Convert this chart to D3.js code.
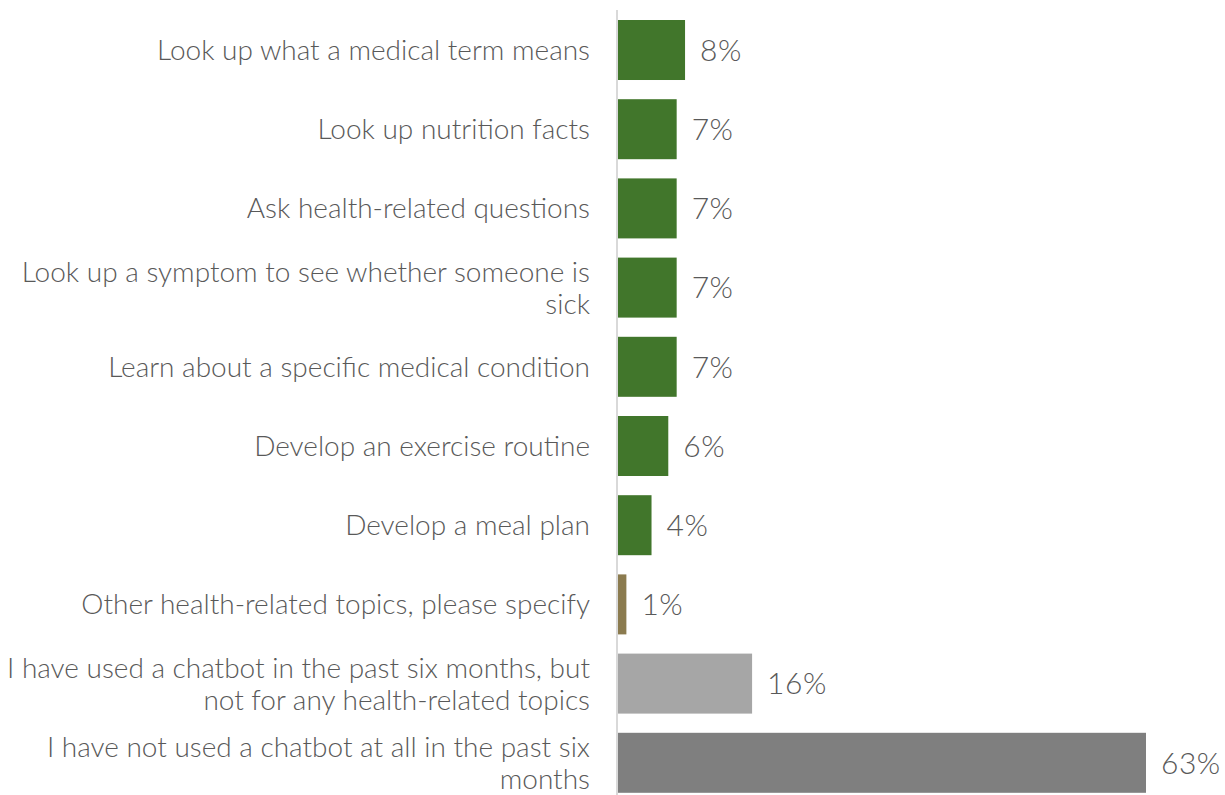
<!DOCTYPE html>
<html>
<head>
<meta charset="utf-8">
<script src="https://cdn.jsdelivr.net/npm/d3@7"></script>
<style>
  html, body { margin: 0; padding: 0; background: #fff; }
  svg { display: block; }
  text { font-family: Lato, "Open Sans", sans-serif; font-weight: 300; fill: #595959; }
</style>
</head>
<body>
<svg id="chart" width="1225" height="795"></svg>
<script>
// Survey answers, top to bottom; "\n" marks a line break in the label
const categories = [
  "Look up what a medical term means",
  "Look up nutrition facts",
  "Ask health-related questions",
  "Look up a symptom to see whether someone is\nsick",
  "Learn about a specific medical condition",
  "Develop an exercise routine",
  "Develop a meal plan",
  "Other health-related topics, please specify",
  "I have used a chatbot in the past six months, but\nnot for any health-related topics",
  "I have not used a chatbot at all in the past six\nmonths"
];
// Share of respondents, percent
const values = [8, 7, 7, 7, 7, 6, 4, 1, 16, 63];
// Bar group: health topic, other topic, non-health use, no use
const groups = ["topic", "topic", "topic", "topic", "topic", "topic", "topic", "other", "nohealth", "none"];

const colors = { topic: "#41762B", other: "#8B7B4F", nohealth: "#A6A6A6", none: "#7F7F7F" };

const svg = d3.select("#chart");
const x0 = 618;

const x = d3.scaleLinear().domain([0, 63]).range([x0, 1146]);
const y = d3.scaleBand()
  .domain(d3.range(categories.length))
  .range([10, 802.8])
  .paddingInner(0.2424)
  .paddingOuter(0.1263);

const rows = svg.selectAll("g.row")
  .data(values.map((v, i) => ({ v, i, label: categories[i], group: groups[i] })))
  .join("g")
  .attr("class", "row");

rows.append("rect")
  .attr("x", x(0))
  .attr("y", d => y(d.i))
  .attr("width", d => x(d.v) - x(0))
  .attr("height", y.bandwidth())
  .attr("fill", d => colors[d.group]);

rows.append("text")
  .attr("x", d => x(d.v) + 15)
  .attr("y", d => y(d.i) + y.bandwidth() / 2)
  .attr("dy", "0.36em")
  .attr("font-size", 30)
  .attr("letter-spacing", 0.5)
  .text(d => d.v + "%");

// Category labels, right-aligned against the axis
const lineGap = 32;
rows.append("text")
  .attr("text-anchor", "end")
  .attr("font-size", 28)
  .each(function (d) {
    const lines = d.label.split("\n");
    const cy = y(d.i) + y.bandwidth() / 2 - (lines.length - 1) * lineGap / 2;
    d3.select(this).selectAll("tspan")
      .data(lines)
      .join("tspan")
      .attr("x", 590)
      .attr("y", (l, k) => cy + k * lineGap)
      .attr("dy", "0.36em")
      .text(l => l);
  });

// Category axis line
svg.append("line")
  .attr("x1", x0 - 1).attr("x2", x0 - 1)
  .attr("y1", 10).attr("y2", 795)
  .attr("stroke", "#D9D9D9")
  .attr("stroke-width", 2);
</script>
</body>
</html>
